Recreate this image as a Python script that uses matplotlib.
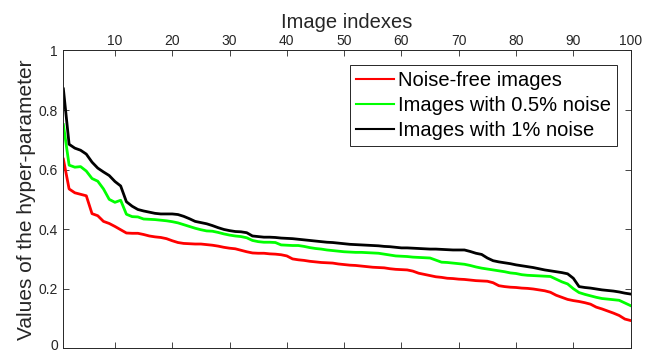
import matplotlib
matplotlib.use("Agg")
import matplotlib.pyplot as plt
import matplotlib.transforms as mtransforms
import numpy as np

plt.rcParams["font.family"] = ["Liberation Sans", "DejaVu Sans"]

image_index = np.arange(1, 101)

noise_free = [
    0.635, 0.535, 0.522, 0.517, 0.512, 0.452, 0.445, 0.426, 0.419, 0.409,
    0.398, 0.387, 0.386, 0.386, 0.382, 0.377, 0.374, 0.372, 0.368, 0.361,
    0.355, 0.352, 0.351, 0.350, 0.350, 0.348, 0.346, 0.343, 0.339, 0.336,
    0.334, 0.329, 0.324, 0.320, 0.319, 0.319, 0.317, 0.316, 0.314, 0.310,
    0.300, 0.297, 0.295, 0.292, 0.290, 0.288, 0.287, 0.286, 0.283, 0.281,
    0.279, 0.278, 0.276, 0.274, 0.272, 0.271, 0.270, 0.267, 0.265, 0.264,
    0.263, 0.259, 0.252, 0.248, 0.244, 0.240, 0.238, 0.235, 0.234, 0.232,
    0.231, 0.229, 0.227, 0.226, 0.225, 0.220, 0.210, 0.207, 0.205, 0.204,
    0.202, 0.201, 0.199, 0.196, 0.193, 0.188, 0.178, 0.171, 0.164, 0.160,
    0.157, 0.153, 0.148, 0.138, 0.132, 0.125, 0.118, 0.110, 0.098, 0.093,
]

noise_05 = [
    0.751, 0.615, 0.608, 0.610, 0.595, 0.570, 0.561, 0.535, 0.500, 0.490,
    0.497, 0.450, 0.442, 0.441, 0.434, 0.433, 0.432, 0.430, 0.428, 0.425,
    0.421, 0.415, 0.409, 0.403, 0.398, 0.394, 0.393, 0.389, 0.384, 0.380,
    0.377, 0.375, 0.371, 0.362, 0.358, 0.356, 0.356, 0.355, 0.347, 0.346,
    0.345, 0.345, 0.342, 0.338, 0.335, 0.333, 0.330, 0.328, 0.326, 0.324,
    0.323, 0.322, 0.322, 0.321, 0.320, 0.319, 0.316, 0.313, 0.310, 0.309,
    0.308, 0.306, 0.305, 0.304, 0.303, 0.296, 0.289, 0.288, 0.286, 0.284,
    0.282, 0.278, 0.273, 0.269, 0.266, 0.263, 0.260, 0.257, 0.253, 0.251,
    0.247, 0.245, 0.244, 0.243, 0.242, 0.241, 0.232, 0.223, 0.216, 0.200,
    0.187, 0.181, 0.176, 0.171, 0.167, 0.165, 0.163, 0.161, 0.152, 0.143,
]

noise_1 = [
    0.871, 0.685, 0.672, 0.665, 0.652, 0.625, 0.605, 0.592, 0.580, 0.560,
    0.545, 0.492, 0.477, 0.466, 0.461, 0.457, 0.453, 0.451, 0.451, 0.451,
    0.449, 0.443, 0.435, 0.426, 0.422, 0.418, 0.412, 0.405, 0.399, 0.395,
    0.392, 0.391, 0.388, 0.377, 0.375, 0.373, 0.373, 0.372, 0.370, 0.369,
    0.368, 0.366, 0.364, 0.362, 0.360, 0.358, 0.356, 0.355, 0.353, 0.351,
    0.349, 0.348, 0.347, 0.346, 0.345, 0.344, 0.342, 0.341, 0.339, 0.337,
    0.337, 0.336, 0.335, 0.334, 0.333, 0.333, 0.332, 0.331, 0.330, 0.330,
    0.330, 0.325, 0.319, 0.315, 0.303, 0.294, 0.290, 0.287, 0.284, 0.280,
    0.277, 0.274, 0.271, 0.267, 0.263, 0.260, 0.257, 0.254, 0.250, 0.235,
    0.207, 0.204, 0.202, 0.199, 0.196, 0.194, 0.192, 0.189, 0.185, 0.182,
]

series_labels = ["Noise-free images", "Images with 0.5% noise", "Images with 1% noise"]
series_colors = ["#ff0000", "#00ff00", "#000000"]

x_ticks = [10, 20, 30, 40, 50, 60, 70, 80, 90, 100]
y_ticks = [0, 0.2, 0.4, 0.6, 0.8, 1]
y_tick_labels = ["0", "0.2", "0.4", "0.6", "0.8", "1"]

fig = plt.figure(figsize=(6.52, 3.53), dpi=100)
ax = fig.add_axes([0.0972, 0.0135, 0.8700, 0.8435])

for vals, lab, col in zip([noise_free, noise_05, noise_1], series_labels, series_colors):
    ax.plot(image_index, vals, color=col, lw=2.0, label=lab)

ax.set_xlim(1, 100)
ax.set_ylim(0, 1)
ax.set_xticks(x_ticks)
ax.set_yticks(y_ticks)
ax.set_yticklabels(y_tick_labels)

ax.xaxis.set_label_position("top")
ax.tick_params(axis="x", which="both", top=True, bottom=True,
               labeltop=True, labelbottom=False, direction="in",
               length=4, width=0.6, colors="#262626", labelsize=10, pad=2)
ax.tick_params(axis="y", which="both", left=True, right=True,
               direction="in", length=4, width=0.6, colors="#262626",
               labelsize=10, pad=4)
for sp in ax.spines.values():
    sp.set_color("#262626")
    sp.set_linewidth(0.7)

# keep the "0" label inside the figure like the original export
zero_lab = ax.get_yticklabels()[0]
zero_lab.set_transform(zero_lab.get_transform() +
                       mtransforms.ScaledTranslation(0, 4 / 100, fig.dpi_scale_trans))

ax.set_xlabel("Image indexes", fontsize=14.5, color="#262626", labelpad=4)
ax.set_ylabel("Values of the hyper-parameter", fontsize=15, color="#262626", labelpad=2)

leg = ax.legend(loc="upper right", bbox_to_anchor=(0.976, 0.951), borderaxespad=0,
                fontsize=14.5, fancybox=False, edgecolor="#262626",
                handlelength=1.9, handletextpad=0.2, labelspacing=0.3,
                borderpad=0.3, framealpha=1)
leg.get_frame().set_linewidth(0.7)
for line in leg.get_lines():
    line.set_linewidth(1.5)

fig.savefig("out.png", dpi=100)
